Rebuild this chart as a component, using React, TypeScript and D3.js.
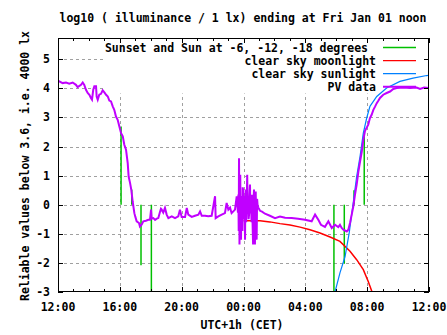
import React from "react";
import * as d3 from "d3";

// hours after 12:00 (noon) -> log10(illuminance / 1 lx)
const pvData: [number, number][] = [
  [0, 4.23], [0.08, 4.24], [0.3, 4.18], [0.52, 4.2], [0.73, 4.16], [0.95, 4.2], [1.16, 4.12],
  [1.27, 4.04], [1.49, 4.12], [1.6, 4.2], [1.7, 4.12], [1.81, 3.95], [1.92, 3.84], [2.03, 3.78],
  [2.13, 3.67], [2.2, 3.61], [2.28, 3.95], [2.35, 4.07], [2.46, 4.07], [2.5, 3.72], [2.57, 3.61],
  [2.67, 3.78], [2.78, 3.81], [2.89, 3.93], [3.0, 3.86], [3.11, 3.78], [3.22, 3.72], [3.32, 3.58],
  [3.43, 3.55], [3.54, 3.38], [3.64, 3.26], [3.75, 3.03], [3.86, 2.92], [3.97, 2.69], [4.08, 2.46],
  [4.19, 2.35], [4.29, 2.06], [4.4, 1.89], [4.51, 1.43], [4.57, 0.97], [4.66, 0.75], [4.74, 0.52],
  [4.83, 0.11], [4.94, -0.29], [5.0, -0.41], [5.09, -0.57], [5.24, -0.63], [5.3, -0.75], [5.41, -0.69],
  [5.52, -0.57], [5.69, -0.55], [5.84, -0.52], [5.95, -0.52], [6.02, -0.17], [6.06, -0.48], [6.17, -0.46],
  [6.28, -0.52], [6.39, -0.48], [6.49, -0.46], [6.6, -0.24], [6.66, -0.14], [6.71, -0.17], [6.81, -0.27],
  [6.92, -0.11], [7.03, -0.34], [7.14, -0.46], [7.36, -0.4], [7.57, -0.46], [7.78, -0.4], [7.89, -0.17],
  [8.0, -0.42], [8.22, -0.42], [8.33, -0.11], [8.43, -0.34], [8.65, -0.42], [8.86, -0.38], [9.08, -0.34],
  [9.19, -0.23], [9.3, -0.38], [9.51, -0.38], [9.72, -0.4], [9.94, -0.38], [10.16, 0.29], [10.2, -0.46],
  [10.37, -0.4], [10.59, -0.34], [10.8, -0.29], [10.91, 0.06], [11.02, -0.17], [11.13, -0.1], [11.23, -0.29],
  [11.45, -0.17], [11.56, 0.29], [11.64, -0.27], [11.67, 0.35], [11.69, -0.9], [11.71, 1.6], [11.73, -0.2],
  [11.74, -1.37], [11.76, 0.4], [11.79, 1.03], [11.81, -0.6], [11.84, -1.2], [11.86, 0.3], [11.88, -0.4],
  [11.9, 0.17], [11.93, -0.9], [11.95, 0.6], [11.97, 0.52], [12.0, -0.5], [12.03, -0.34], [12.06, 0.3],
  [12.1, -1.2], [12.12, 0.2], [12.14, 0.52], [12.17, -0.6], [12.19, -0.34], [12.22, 0.4], [12.24, 1.03],
  [12.27, -0.3], [12.31, 0.17], [12.33, -0.5], [12.36, -0.34], [12.39, 0.35], [12.42, 0.69], [12.45, -0.3],
  [12.49, 0.0], [12.52, -0.6], [12.55, 0.34], [12.58, -0.5], [12.62, -1.37], [12.65, 0.2], [12.68, 0.52],
  [12.71, -0.8], [12.74, -1.37], [12.77, 0.3], [12.79, 0.45], [12.82, -0.5], [12.85, -1.2], [12.88, 0.2],
  [12.91, 0.0], [12.96, -0.1], [13.07, -0.21], [13.2, -0.24],
  [13.39, -0.31], [13.71, -0.38], [14.04, -0.46], [14.36, -0.41], [14.69, -0.45], [15.12, -0.46], [15.53, -0.48],
  [15.98, -0.52], [16.41, -0.57], [16.63, -0.34], [16.84, -0.52], [17.01, -0.69], [17.27, -0.76], [17.49, -0.57],
  [17.71, -0.8], [17.92, -0.69], [18.13, -0.77], [18.24, -0.69], [18.35, -0.8], [18.46, -0.86], [18.68, -0.92],
  [18.78, -0.86], [18.89, -0.63], [19.0, -0.34], [19.1, -0.07], [19.21, 0.34], [19.32, 0.69], [19.43, 1.13],
  [19.54, 1.48], [19.65, 1.82], [19.75, 2.23], [19.86, 2.54], [19.97, 2.65], [20.07, 2.75], [20.18, 2.98],
  [20.29, 3.09], [20.4, 3.26], [20.51, 3.37], [20.62, 3.49], [20.72, 3.57], [20.83, 3.67], [21.04, 3.78],
  [21.26, 3.84], [21.48, 3.89], [21.69, 3.98], [21.91, 4.01], [22.34, 4.03], [22.77, 4.01], [23.2, 4.03],
  [23.42, 3.98], [23.68, 4.03], [24.0, 4.01],
];

const sunlightData: [number, number][] = [
  [17.92, -3.0], [18.24, -2.34], [18.57, -1.78], [18.84, -0.96], [19.1, 0.07], [19.32, 0.97], [19.54, 1.66],
  [19.75, 2.46], [19.97, 2.98], [20.18, 3.38], [20.62, 3.72], [21.26, 4.01], [22.12, 4.24], [22.97, 4.35],
  [23.85, 4.44], [24.0, 4.45],
];

const moonlightData: [number, number][] = [
  [12.0, -0.55], [13.07, -0.55], [13.71, -0.59], [14.36, -0.65], [15.01, -0.7], [15.66, -0.77], [16.3, -0.86],
  [16.95, -0.97], [17.6, -1.11], [18.24, -1.26], [18.89, -1.6], [19.32, -1.89], [19.75, -2.23], [20.07, -2.64],
  [20.31, -2.99], [20.41, -3.3],
];

// sunset and sun at -6, -12, -18 degrees: [hour after noon, end value of the marker from 0]
const sunMarkers: [number, number][] = [
  [4.08, 2.69], [4.77, 0.52], [5.37, -2.08], [6.04, -3.2],
  [17.85, -3.2], [18.52, -2.03], [19.15, 0.5], [19.81, 2.52],
];

const xTickLabels = ["12:00", "16:00", "20:00", "00:00", "04:00", "08:00", "12:00"];
const yTicks = [-3, -2, -1, 0, 1, 2, 3, 4, 5];
const legendLabels = ["Sunset and Sun at -6, -12, -18 degrees", "clear sky moonlight", "clear sky sunlight", "PV data"];
const legendColors = ["#00c000", "#ff0000", "#0080ff", "#c000ff"];

const W = 447, H = 335;
const L = 58, R = 429, T = 38, B = 292;
const FONT = "'DejaVu Sans Mono', 'Liberation Mono', monospace";

export default function App() {
  const x = d3.scaleLinear().domain([0, 24]).range([L, R]);
  const y = d3.scaleLinear().domain([-3, 5.73]).range([B, T]);
  const line = d3.line<[number, number]>().x(d => x(d[0])).y(d => y(d[1]));
  const majorX = d3.range(0, 25, 4);
  const minorX = d3.range(0, 25, 1).filter(h => h % 4 !== 0);
  const keyBottom = 93.5, keyLeft = 106;
  const gridColor = "#a0a0a0";

  return (
    <svg width={W} height={H} style={{ position: "absolute", left: 0, top: 0, background: "#fff" }}
      fontFamily={FONT} fontWeight="bold" fontSize={11.5}>
      <defs>
        <clipPath id="plot"><rect x={L} y={T} width={R - L} height={B - T} /></clipPath>
      </defs>
      <rect x={0} y={0} width={W} height={H} fill="#fff" />
      {/* grid */}
      <g stroke={gridColor} strokeWidth={1} strokeDasharray="3,3" shapeRendering="crispEdges">
        {yTicks.filter(v => v > -3).map(v => (
          <line key={"gy" + v} x1={L} x2={R} y1={Math.round(y(v)) + 0.5} y2={Math.round(y(v)) + 0.5} />
        ))}
        {majorX.filter(h => h > 0 && h < 24).map(h => (
          <line key={"gx" + h} x1={Math.round(x(h)) + 0.5} x2={Math.round(x(h)) + 0.5} y1={B} y2={T} />
        ))}
      </g>
      {/* opaque key area */}
      <rect x={keyLeft} y={T} width={R - keyLeft} height={keyBottom - T} fill="#fff" />
      {/* data */}
      <g clipPath="url(#plot)" fill="none">
        {sunMarkers.map((m, i) => (
          <line key={"sm" + i} x1={x(m[0])} x2={x(m[0])} y1={y(0)} y2={y(m[1])} stroke="#00c000" strokeWidth={1.5} />
        ))}
        <path d={line(moonlightData) || ""} stroke="#ff0000" strokeWidth={1.5} />
        <path d={line(sunlightData) || ""} stroke="#0080ff" strokeWidth={1.2} />
        <path d={line(pvData) || ""} stroke="#c000ff" strokeWidth={2} strokeLinejoin="miter" />
      </g>
      {/* legend */}
      {legendLabels.map((lab, i) => {
        const yy = 47.5 + i * 13.1;
        return (
          <g key={"lg" + i}>
            <text x={i === 0 ? 368 : 376} y={yy + 4} textAnchor="end" fill="#000">{lab}</text>
            <line x1={383} x2={416} y1={yy} y2={yy} stroke={legendColors[i]} strokeWidth={i === 3 ? 2 : 1.3} />
          </g>
        );
      })}
      {/* frame and ticks */}
      <g stroke="#000" strokeWidth={1} shapeRendering="crispEdges">
        <rect x={L + 0.5} y={T + 0.5} width={R - L - 1} height={B - T - 1} fill="none" />
        {yTicks.map(v => (
          <g key={"ty" + v}>
            <line x1={L} x2={L + 5} y1={Math.round(y(v)) + 0.5} y2={Math.round(y(v)) + 0.5} />
            <line x1={R - 5} x2={R} y1={Math.round(y(v)) + 0.5} y2={Math.round(y(v)) + 0.5} />
          </g>
        ))}
        {majorX.map(h => (
          <g key={"tx" + h}>
            <line x1={Math.round(x(h)) + 0.5} x2={Math.round(x(h)) + 0.5} y1={B} y2={B - 5} />
            <line x1={Math.round(x(h)) + 0.5} x2={Math.round(x(h)) + 0.5} y1={T} y2={T + 5} />
          </g>
        ))}
        {minorX.map(h => (
          <g key={"mx" + h}>
            <line x1={Math.round(x(h)) + 0.5} x2={Math.round(x(h)) + 0.5} y1={B} y2={B - 3} />
            <line x1={Math.round(x(h)) + 0.5} x2={Math.round(x(h)) + 0.5} y1={T} y2={T + 3} />
          </g>
        ))}
      </g>
      {/* tick labels */}
      {yTicks.map(v => (
        <text key={"yl" + v} x={50} y={y(v) + 4} textAnchor="end" fill="#000">{v}</text>
      ))}
      {majorX.map((h, i) => (
        <text key={"xl" + h} x={x(h)} y={311} textAnchor="middle" fill="#000">{xTickLabels[i]}</text>
      ))}
      {/* titles */}
      <text x={243} y={21.5} textAnchor="middle" fill="#000">log10 ( illuminance / 1 lx) ending at Fri Jan 01 noon</text>
      <text x={242} y={329} textAnchor="middle" fill="#000">UTC+1h (CET)</text>
      <text transform="translate(29,166) rotate(-90)" textAnchor="middle" fill="#000">Reliable values below 3.6, i.e. 4000 lx</text>
    </svg>
  );
}
